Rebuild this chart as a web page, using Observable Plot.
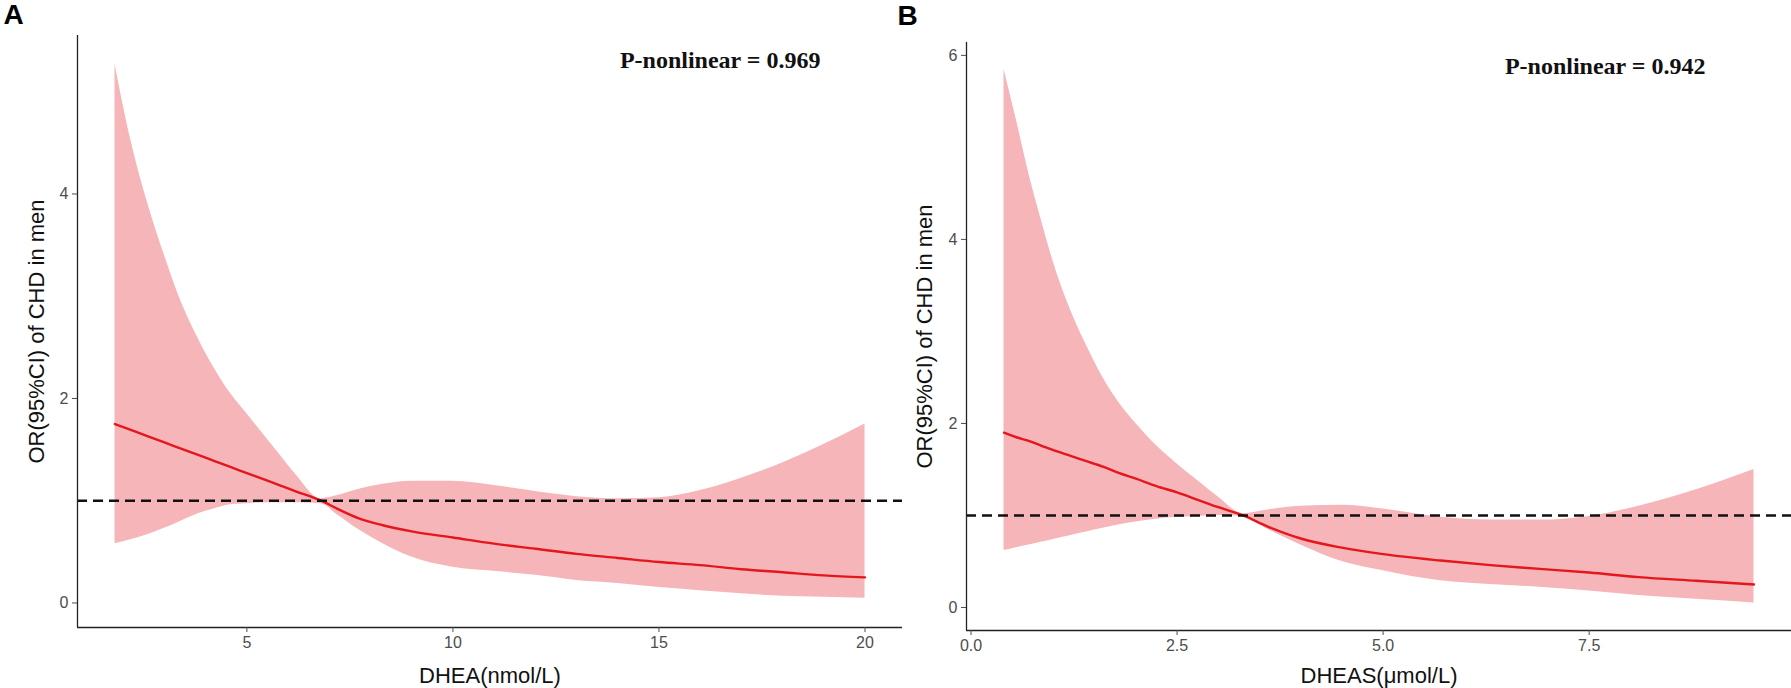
<!DOCTYPE html>
<html>
<head>
<meta charset="utf-8">
<script src="https://cdn.jsdelivr.net/npm/d3@7"></script>
<script src="https://cdn.jsdelivr.net/npm/@observablehq/plot@0.6"></script>
<style>
  html, body { margin: 0; padding: 0; background: #fff; }
  #wrap { display: flex; flex-direction: row; width: 1791px; height: 688px; overflow: hidden; }
  #wrap svg { overflow: visible; }
</style>
</head>
<body>
<div id="wrap"></div>
<script>
// ---------- Panel A: DHEA ----------
const aX     = [1.8, 2.2, 2.6, 3.0, 3.4, 3.8, 4.2, 4.6, 5.0, 5.4, 5.8, 6.2, 6.8, 7.2, 7.7, 8.3, 9.0, 10, 11, 12, 13, 14, 15, 16, 17, 18, 19, 20];
const aUpper = [5.27, 4.5, 3.9, 3.4, 2.95, 2.6, 2.3, 2.05, 1.85, 1.65, 1.45, 1.25, 1.02, 1.05, 1.11, 1.16, 1.19, 1.19, 1.15, 1.09, 1.04, 1.02, 1.03, 1.1, 1.22, 1.37, 1.55, 1.75];
const aLower = [0.58, 0.62, 0.67, 0.73, 0.8, 0.87, 0.92, 0.96, 0.97, 0.98, 0.98, 0.98, 0.97, 0.86, 0.72, 0.58, 0.45, 0.35, 0.31, 0.27, 0.22, 0.19, 0.15, 0.12, 0.09, 0.065, 0.055, 0.045];
const aOR    = [1.75, 1.69, 1.63, 1.57, 1.51, 1.45, 1.39, 1.33, 1.27, 1.21, 1.15, 1.09, 1.0, 0.92, 0.83, 0.76, 0.70, 0.64, 0.58, 0.53, 0.48, 0.44, 0.40, 0.37, 0.33, 0.30, 0.27, 0.25];
const aXTicks = [5, 10, 15, 20];
const aYTicks = [0, 2, 4];
const aXDomain = [0.89, 20.91];
const aYDomain = [-0.24, 5.55];
const aXLabel = "DHEA(nmol/L)";
const aPText = "P-nonlinear = 0.969";

// ---------- Panel B: DHEAS ----------
const bX     = [0.4, 0.55, 0.7, 0.85, 1.0, 1.2, 1.4, 1.6, 1.8, 2.0, 2.25, 2.5, 2.75, 3.0, 3.3, 3.6, 4.0, 4.5, 5.0, 5.7, 6.3, 6.9, 7.5, 8.1, 8.8, 9.5];
const bUpper = [5.85, 5.3, 4.72, 4.22, 3.75, 3.25, 2.85, 2.5, 2.22, 2.0, 1.76, 1.56, 1.38, 1.2, 1.02, 1.06, 1.1, 1.11, 1.07, 0.98, 0.95, 0.95, 0.99, 1.1, 1.28, 1.5];
const bLower = [0.62, 0.65, 0.68, 0.71, 0.74, 0.78, 0.82, 0.86, 0.9, 0.93, 0.96, 0.98, 0.99, 1.0, 0.99, 0.85, 0.68, 0.5, 0.4, 0.29, 0.25, 0.22, 0.18, 0.13, 0.09, 0.05];
const bOR    = [1.9, 1.85, 1.81, 1.76, 1.71, 1.65, 1.59, 1.53, 1.46, 1.40, 1.32, 1.25, 1.17, 1.09, 1.0, 0.88, 0.75, 0.65, 0.58, 0.51, 0.46, 0.42, 0.38, 0.33, 0.29, 0.25];
const bXTicks = [0, 2.5, 5, 7.5];
const bYTicks = [0, 2, 4, 6];
const bXDomain = [-0.055, 9.955];
const bYDomain = [-0.25, 6.14];
const bXLabel = "DHEAS(\u03bcmol/L)";
const bPText = "P-nonlinear = 0.942";

const yLabel = "OR(95%CI) of CHD in men";
const refOR = 1;

const bandFill = "#f6b5b8";
const lineColor = "#e3171c";
const sans = "Liberation Sans, Arial, Helvetica, sans-serif";
const serif = "Liberation Serif, Times New Roman, serif";

function panel({xs, up, lo, or, xTicks, yTicks, xDomain, yDomain, xLabel, pText, letter, fmt, w, m, pdx, pdy, ldx, ldy, ydx, xdy}) {
  const rows = xs.map((x, i) => ({x, lo: lo[i], hi: up[i], or: or[i]}));
  return Plot.plot({
    width: w, height: 688,
    marginLeft: m[0], marginRight: m[1], marginTop: m[2], marginBottom: m[3],
    x: {domain: xDomain},
    y: {domain: yDomain},
    style: {fontFamily: sans, background: "white", overflow: "visible"},
    marks: [
      Plot.areaY(rows, {x: "x", y1: "lo", y2: "hi", fill: bandFill, curve: "monotone-x"}),
      Plot.line(rows, {x: "x", y: "or", stroke: lineColor, strokeWidth: 2.4, curve: "monotone-x"}),
      Plot.ruleY([refOR], {stroke: "#111", strokeWidth: 2.6, strokeDasharray: "10,6"}),
      Plot.ruleX([xDomain[0]], {stroke: "#222", strokeWidth: 1.3}),
      Plot.ruleY([yDomain[0]], {stroke: "#222", strokeWidth: 1.3}),
      Plot.axisX(xTicks, {tickSize: 5, tickPadding: 4, fontSize: 16, color: "#4d4d4d", label: null, tickFormat: fmt}),
      Plot.axisY(yTicks, {tickSize: 5, tickPadding: 4, fontSize: 16, color: "#4d4d4d", label: null, tickFormat: d3.format("d")}),
      Plot.text([xLabel], {text: d => d, frameAnchor: "bottom", dy: xdy, textAnchor: "middle", lineAnchor: "middle", fontSize: 22, fill: "#111"}),
      Plot.text([yLabel], {text: d => d, frameAnchor: "left", dx: ydx, rotate: -90, textAnchor: "middle", lineAnchor: "middle", fontSize: 22, fill: "#111"}),
      Plot.text([pText], {text: d => d, frameAnchor: "top-right", textAnchor: "end", lineAnchor: "middle", dx: pdx, dy: pdy, fontFamily: serif, fontWeight: "bold", fontSize: 24, fill: "#111"}),
      Plot.text([letter], {text: d => d, frameAnchor: "top-left", textAnchor: "middle", lineAnchor: "middle", dx: ldx, dy: ldy, fontWeight: "bold", fontSize: 28, fill: "#000"})
    ]
  });
}

const wrap = document.getElementById("wrap");
wrap.append(panel({
  xs: aX, up: aUpper, lo: aLower, or: aOR, xTicks: aXTicks, yTicks: aYTicks,
  xDomain: aXDomain, yDomain: aYDomain, xLabel: aXLabel, pText: aPText, letter: "A",
  fmt: d3.format("d"), w: 905, m: [77, 3, 35, 61], pdx: -82, pdy: 25, ldx: -64, ldy: -20, ydx: -41, xdy: 48
}));
wrap.append(panel({
  xs: bX, up: bUpper, lo: bLower, or: bOR, xTicks: bXTicks, yTicks: bYTicks,
  xDomain: bXDomain, yDomain: bYDomain, xLabel: bXLabel, pText: bPText, letter: "B",
  fmt: d3.format(".1f"), w: 886, m: [61, 0, 42, 58], pdx: -86, pdy: 24, ldx: -59, ldy: -26, ydx: -42, xdy: 45
}));
</script>
</body>
</html>
